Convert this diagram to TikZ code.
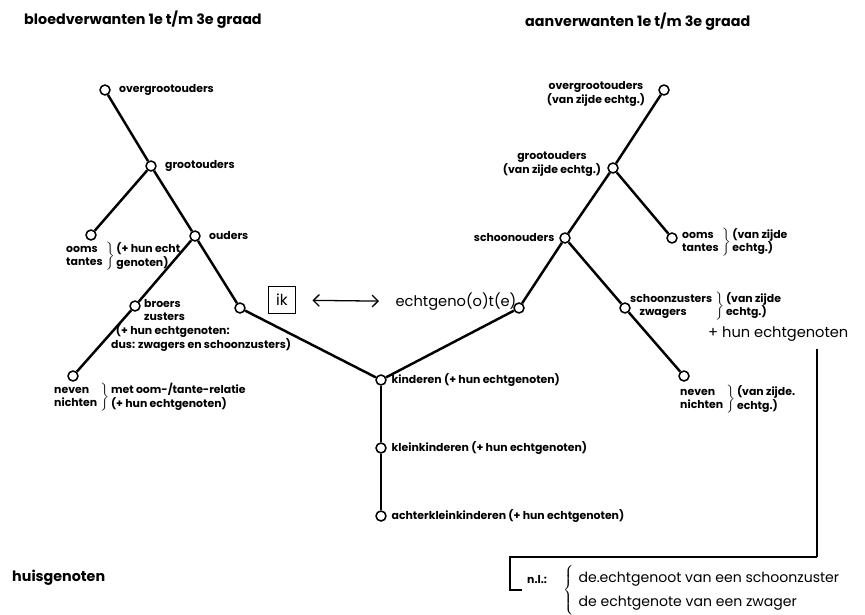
\documentclass[tikz,border=0pt]{standalone}
\usepackage{fontspec}
\setmainfont{Poppins}
\usetikzlibrary{positioning,arrows.meta}

\newcommand{\lblfont}{\fontsize{9.3}{11}\selectfont\bfseries}
\newcommand{\twolines}[1]{\begin{tabular}{@{}l@{}}#1\end{tabular}}
\newcommand{\brlbl}[2]{\twolines{#1}\,$\left.\vphantom{\twolines{#1}}\right\}$\,\twolines{#2}}

\begin{document}
\begin{tikzpicture}
[x=0.03cm,y=-0.03cm,
knot/.style={circle,draw,line width=1.3pt,inner sep=0pt,minimum size=8.5pt,fill=white},
tak/.style={line width=2.1pt},
kop/.style={font=\fontsize{12.2}{14}\selectfont\bfseries,inner sep=0pt,anchor=west},
groot/.style={font=\fontsize{12.5}{14}\selectfont,inner sep=0pt}
]
\tikzset{every node/.style={font=\lblfont,inner sep=0pt}}
\useasboundingbox (0,0) rectangle (865,615);
%\draw[help lines] (0,0) grid[step=50] (865,615);

% koppen
\node[kop] (bloed) at (24,20) {bloedverwanten 1e t/m 3e graad};
\node[kop] (aan) at (525,22) {aanverwanten 1e t/m 3e graad};
\node[kop] (huis) at (12,578) {huisgenoten};

% bloedverwanten
\node[knot] (ogl) at (105,90) {};
\node[knot] (gl) at (151,166) {};
\node[knot] (ol) at (91,235) {};
\node[knot] (ou) at (195,236) {};
\node[knot] (br) at (135,306) {};
\node[knot] (me) at (240,308) {};
\node[knot] (nevl) at (73,376) {};
\node[anchor=west, right=7pt of ogl] {overgrootouders};
\node[anchor=west, right=7pt of gl] {grootouders};
\node[anchor=west, right=7pt of ou] {ouders};
\node[anchor=north west] at (66,242) {\brlbl{ooms\\tantes}{(+ hun echt\\genoten)}};
\node[anchor=north west] at (144,298) {\twolines{broers\\zusters}};
\node[anchor=north west] at (111,324) {\twolines{\hspace{4pt}(+ hun echtgenoten:\\dus: zwagers en schoonzusters)}};
\node[anchor=north west] at (54,383) {\brlbl{neven\\nichten}{met oom-/tante-relatie\\(+ hun echtgenoten)}};

% ik en partner
\node[draw,line width=1.1pt,minimum width=23pt,minimum height=23pt,font=\fontsize{13}{15}\selectfont] (ik) at (282,300) {ik};
\node[groot] (echt) at (456,302) {echtgeno(o)t(e)};
\draw[{Straight Barb[length=5pt]}-{Straight Barb[length=5pt]},line width=1.1pt,shorten <=14pt,shorten >=14pt] (ik) -- (echt);

% kinderen
\node[knot] (kind) at (381,380) {};
\node[knot] (klein) at (381,448) {};
\node[knot] (achter) at (381,516) {};
\node[anchor=west, right=4pt of kind] {kinderen (+ hun echtgenoten)};
\node[anchor=west, right=4pt of klein] {kleinkinderen (+ hun echtgenoten)};
\node[anchor=west, right=4pt of achter] {achterkleinkinderen (+ hun echtgenoten)};

% aanverwanten
\node[knot] (part) at (519,308) {};
\node[knot] (schoon) at (565,238) {};
\node[knot] (gr) at (613,168) {};
\node[knot] (ogr) at (664,90) {};
\node[knot] (oomr) at (672,238) {};
\node[knot] (zwag) at (625,308) {};
\node[knot] (nevr) at (684,376) {};
\node[anchor=east, left=4pt of schoon] {schoonouders};
\node[align=center] at (552,164) {grootouders\\(van zijde echtg.)};
\node[align=center] at (596,94) {overgrootouders\\(van zijde echtg.)};
\node[anchor=west] at (682,242) {\brlbl{ooms\\tantes}{(van zijde\\echtg.)}};
\node[anchor=west] at (630,306) {\twolines{schoonzusters\\\hspace{8pt}zwagers}\,$\left.\vphantom{\twolines{x\\x}}\right\}$\,\twolines{(van zijde\\echtg.)}};
\node[anchor=north west] at (680,385) {\brlbl{neven\\nichten}{(van zijde.\\echtg.)}};
\node[groot,anchor=west] (plus) at (708,334) {+ hun echtgenoten};

% n.l.
\node[anchor=west] (nl) at (527,580) {n.l.:};
\node[anchor=west,font=\fontsize{12}{20}\selectfont] (uitleg) at (563,590)
  {$\left\{\vphantom{\twolines{x\\x}}\right.$\hspace{3pt}\twolines{de.echtgenoot van een schoonzuster\\de echtgenote van een zwager}};
\coordinate (hoek) at (510,557);
\draw[line width=2.2pt] (plus.south -| 817,0) ++(0,-6pt) -- (817,557);
\draw[line width=1.3pt] (817,557) -- (hoek) -- (510,590) -- ([xshift=-4pt]nl.west |- 0,590);

% takken
\draw[tak] (ogl) -- (gl);
\draw[tak] (gl) -- (ol);
\draw[tak] (gl) -- (ou);
\draw[tak] (ou) -- (br);
\draw[tak] (ou) -- (me);
\draw[tak] (br) -- (nevl);
\draw[tak] (me) -- (kind);
\draw[tak] (kind) -- (part);
\draw[tak] (kind) -- (klein);
\draw[tak] (klein) -- (achter);
\draw[tak] (part) -- (schoon);
\draw[tak] (schoon) -- (gr);
\draw[tak] (gr) -- (ogr);
\draw[tak] (gr) -- (oomr);
\draw[tak] (schoon) -- (zwag);
\draw[tak] (zwag) -- (nevr);
\end{tikzpicture}
\end{document}
